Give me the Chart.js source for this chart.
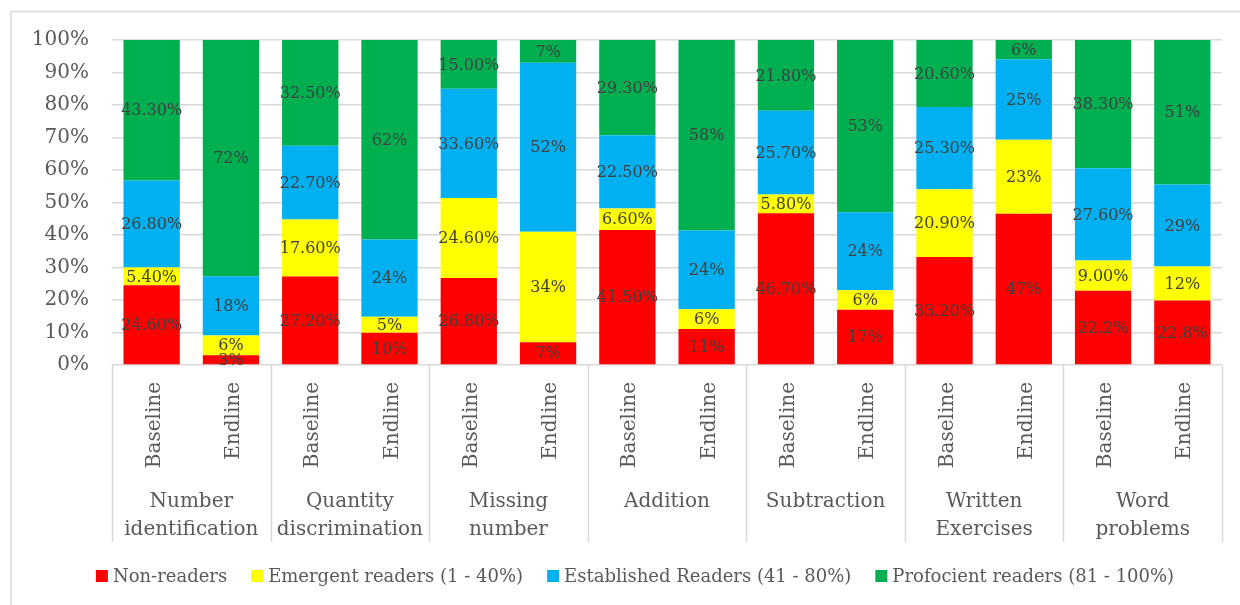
<!DOCTYPE html>
<html>
<head>
<meta charset="utf-8">
<script src="https://cdn.jsdelivr.net/npm/chart.js@4"></script>
<style>
  html, body { margin: 0; padding: 0; background: #ffffff; }
  #wrap { width: 1240px; height: 605px; }
</style>
</head>
<body>
<div id="wrap"><canvas id="c" width="1240" height="605"></canvas></div>
<script>
// ---- Data ----
const groupLabels = [
  ['Number', 'identification'],
  ['Quantity', 'discrimination'],
  ['Missing', 'number'],
  ['Addition'],
  ['Subtraction'],
  ['Written', 'Exercises'],
  ['Word', 'problems']
];
const phases = ['Baseline', 'Endline'];
const seriesNames = ['Non-readers', 'Emergent readers (1 - 40%)', 'Established Readers (41 - 80%)', 'Profocient readers (81 - 100%)'];
const seriesColors = ['#FF0000', '#FFFF00', '#00B0F0', '#00B050'];

const nonReaders  = [24.6, 3, 27.2, 10, 26.8, 7, 41.5, 11, 46.7, 17, 33.2, 47, 22.2, 22.8];
const emergent    = [5.4, 6, 17.6, 5, 24.6, 34, 6.6, 6, 5.8, 6, 20.9, 23, 9.0, 12];
const established = [26.8, 18, 22.7, 24, 33.6, 52, 22.5, 24, 25.7, 24, 25.3, 25, 27.6, 29];
const proficient  = [43.3, 72, 32.5, 62, 15.0, 7, 29.3, 58, 21.8, 53, 20.6, 6, 38.3, 51];

// number of decimals shown in each data label
const nonReadersDecimals  = [2, 0, 2, 0, 2, 0, 2, 0, 2, 0, 2, 0, 1, 1];
const emergentDecimals    = [2, 0, 2, 0, 2, 0, 2, 0, 2, 0, 2, 0, 2, 0];
const establishedDecimals = [2, 0, 2, 0, 2, 0, 2, 0, 2, 0, 2, 0, 2, 0];
const proficientDecimals  = [2, 0, 2, 0, 2, 0, 2, 0, 2, 0, 2, 0, 2, 0];

const yTicks = [0, 10, 20, 30, 40, 50, 60, 70, 80, 90, 100];

// ---- Build ----
const seriesValues = [nonReaders, emergent, established, proficient];
const seriesDecimals = [nonReadersDecimals, emergentDecimals, establishedDecimals, proficientDecimals];
const barLabels = [];
groupLabels.forEach(g => phases.forEach(p => barLabels.push(p)));
const totals = barLabels.map((_, i) => seriesValues.reduce((s, arr) => s + arr[i], 0));

const FONT = "'DejaVu Serif', serif";

const datasets = seriesValues.map((vals, k) => ({
  label: seriesNames[k],
  data: vals.map((v, i) => v / totals[i] * 100),
  raw: vals,
  decimals: seriesDecimals[k],
  backgroundColor: seriesColors[k],
  borderWidth: 0,
  barPercentage: 0.71,
  categoryPercentage: 1.0
}));

const decorPlugin = {
  id: 'decor',
  beforeDraw(chart) {
    const ctx = chart.ctx;
    ctx.save();
    ctx.fillStyle = '#ffffff';
    ctx.fillRect(0, 0, chart.width, chart.height);
    ctx.strokeStyle = '#d9d9d9';
    ctx.lineWidth = 1.5;
    ctx.beginPath();
    ctx.moveTo(11, 605); ctx.lineTo(11, 11.5); ctx.lineTo(1240, 11.5);
    ctx.stroke();
    ctx.restore();
  },
  afterDatasetsDraw(chart) {
    const ctx = chart.ctx;
    ctx.save();
    // data labels
    ctx.font = '16px ' + FONT;
    ctx.fillStyle = '#404040';
    ctx.textAlign = 'center';
    ctx.textBaseline = 'middle';
    chart.data.datasets.forEach((ds, di) => {
      const meta = chart.getDatasetMeta(di);
      meta.data.forEach((el, i) => {
        const txt = ds.raw[i].toFixed(ds.decimals[i]) + '%';
        ctx.fillText(txt, el.x, (el.y + el.base) / 2 + 1);
      });
    });
    // x axis: separators, rotated labels, group labels
    const area = chart.chartArea;
    const xs = chart.scales.x;
    const gw = (area.right - area.left) / groupLabels.length;
    ctx.strokeStyle = '#d9d9d9';
    ctx.lineWidth = 1.5;
    for (let g = 0; g <= groupLabels.length; g++) {
      const x = Math.round(area.left + g * gw) + 0.5;
      ctx.beginPath();
      ctx.moveTo(x, area.bottom);
      ctx.lineTo(x, 542);
      ctx.stroke();
    }
    ctx.fillStyle = '#595959';
    ctx.font = '20px ' + FONT;
    barLabels.forEach((lab, i) => {
      const x = xs.getPixelForValue(i);
      ctx.save();
      ctx.translate(x + 8, 382);
      ctx.rotate(-Math.PI / 2);
      ctx.textAlign = 'right';
      ctx.textBaseline = 'alphabetic';
      ctx.fillText(lab, 0, 0);
      ctx.restore();
    });
    ctx.textAlign = 'center';
    ctx.textBaseline = 'alphabetic';
    groupLabels.forEach((lines, g) => {
      const cx = area.left + (g + 0.5) * gw;
      lines.forEach((ln, j) => ctx.fillText(ln, cx, 507 + j * 28));
    });
    // legend
    ctx.font = '18px ' + FONT;
    const box = 12, gapText = 5, gapItem = 24;
    const widths = seriesNames.map(n => box + gapText + ctx.measureText(n).width);
    const total = widths.reduce((a, b) => a + b, 0) + gapItem * (widths.length - 1);
    let lx = 635 - total / 2;
    ctx.textAlign = 'left';
    ctx.textBaseline = 'middle';
    seriesNames.forEach((n, k) => {
      ctx.fillStyle = seriesColors[k];
      ctx.fillRect(lx, 570, box, box);
      ctx.fillStyle = '#595959';
      ctx.fillText(n, lx + box + gapText, 577);
      lx += widths[k] + gapItem;
    });
    ctx.restore();
  }
};

new Chart(document.getElementById('c'), {
  type: 'bar',
  data: { labels: barLabels, datasets },
  options: {
    responsive: false,
    animation: false,
    layout: { padding: { top: 40, right: 18, left: 0, bottom: 0 } },
    plugins: { legend: { display: false }, tooltip: { enabled: false } },
    scales: {
      x: {
        stacked: true,
        grid: { display: false },
        border: { display: false },
        ticks: { display: false },
        afterFit(scale) { scale.height = 240; }
      },
      y: {
        stacked: true,
        min: 0, max: 100,
        afterFit(scale) { scale.width = 112; },
        afterBuildTicks(scale) { scale.ticks = yTicks.map(v => ({ value: v })); },
        grid: { color: '#d9d9d9', lineWidth: 1.5, drawTicks: false },
        border: { display: false },
        ticks: {
          padding: 23,
          color: '#595959',
          font: { family: FONT, size: 20 },
          callback: v => v + '%'
        }
      }
    }
  },
  plugins: [decorPlugin]
});
</script>
</body>
</html>
